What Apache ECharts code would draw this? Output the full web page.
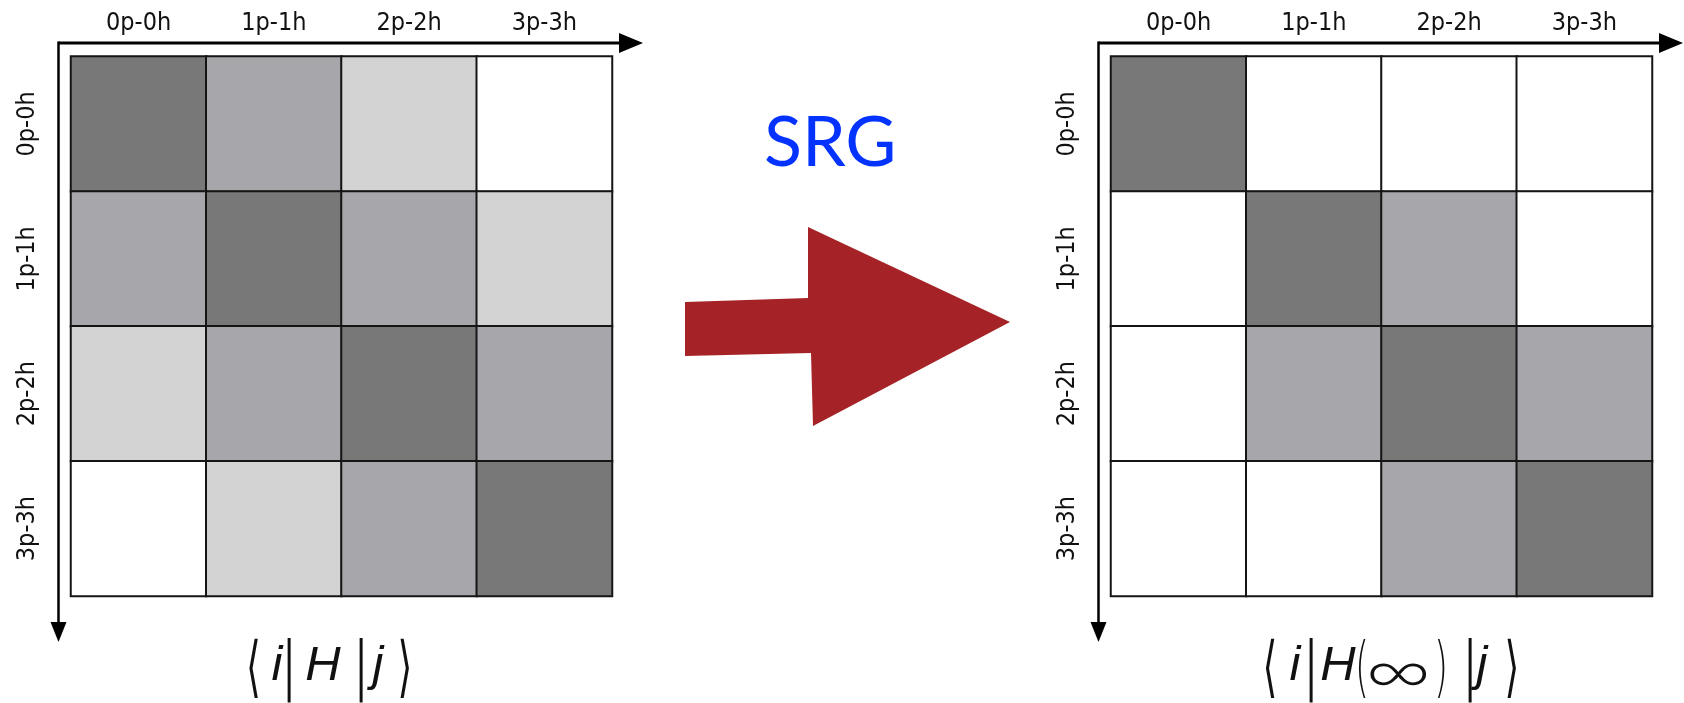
<!DOCTYPE html>
<html>
<head>
<meta charset="utf-8">
<title>SRG: H to H(∞)</title>
<script src="https://cdn.jsdelivr.net/npm/echarts@6/dist/echarts.min.js"></script>
<style>
  html, body { margin: 0; padding: 0; background: #ffffff; }
  #chart { width: 1684px; height: 703px; }
</style>
</head>
<body>
<div id="chart"></div>
<script>
// Basis states (rows i and columns j share the same labels)
const stateLabels = ['0p-0h', '1p-1h', '2p-2h', '3p-3h'];

// Coupling strength between states, 3 = strongest (diagonal) ... 0 = none
const hInitial = [
  [3, 2, 1, 0],
  [2, 3, 2, 1],
  [1, 2, 3, 2],
  [0, 1, 2, 3]
];
const hEvolved = [
  [3, 0, 0, 0],
  [0, 3, 2, 0],
  [0, 2, 3, 2],
  [0, 0, 2, 3]
];

// Shade for each strength level
const levelColors = ['#ffffff', '#d3d3d3', '#a7a6aa', '#787878'];

// Layout of the two matrix panels
const panels = [
  { left: 71, top: 56.5, width: 541, height: 539.5 },
  { left: 1111, top: 56.5, width: 541, height: 539.5 }
];

const labelFont = '"Liberation Sans Narrow", "Arial Narrow", "DejaVu Sans Condensed", sans-serif';

function toCells(matrix) {
  const out = [];
  matrix.forEach((row, i) => row.forEach((v, j) => out.push([j, i, v])));
  return out;
}

function xAxisFor(idx) {
  return {
    type: 'category', gridIndex: idx, position: 'top', data: stateLabels,
    axisLine: { show: false }, axisTick: { show: false }, splitLine: { show: false },
    axisLabel: { margin: 21, fontFamily: labelFont, fontSize: 25, color: '#111' }
  };
}
function yAxisFor(idx) {
  return {
    type: 'category', gridIndex: idx, inverse: true, data: stateLabels,
    axisLine: { show: false }, axisTick: { show: false }, splitLine: { show: false },
    axisLabel: { margin: 31, rotate: 90, fontFamily: labelFont, fontSize: 25, color: '#111' }
  };
}
function heatSeries(idx, matrix) {
  return {
    type: 'heatmap', xAxisIndex: idx, yAxisIndex: idx, data: toCells(matrix),
    itemStyle: { borderColor: '#151515', borderWidth: 2 },
    emphasis: { disabled: true }, silent: true
  };
}

// Axis arrows running along the top and down the left of each panel
function axisArrows(p) {
  const ax = p.left - 12.5;
  const ay = p.top - 13.5;
  const tipX = p.left + p.width + 31;
  const tipY = p.top + p.height + 46;
  const ink = { stroke: '#000', lineWidth: 3 };
  return [
    { type: 'line', shape: { x1: ax, y1: ay, x2: tipX - 16, y2: ay }, style: ink, silent: true },
    { type: 'polygon', shape: { points: [[tipX - 24, ay - 10], [tipX, ay], [tipX - 24, ay + 10]] }, style: { fill: '#000' }, silent: true },
    { type: 'line', shape: { x1: ax, y1: ay - 1.5, x2: ax, y2: tipY - 14 }, style: { stroke: '#000', lineWidth: 2.5 }, silent: true },
    { type: 'polygon', shape: { points: [[ax - 8, tipY - 20], [ax, tipY], [ax + 8, tipY - 20]] }, style: { fill: '#000' }, silent: true }
  ];
}

// Matrix-element captions, one glyph per piece; tall delimiters are stretched vertically
const mathItalic = 'italic 49px "Liberation Sans", Arial, sans-serif';
const mathBracket = '38px "DejaVu Sans", sans-serif';
const mathBar = '300 64px "DejaVu Sans", sans-serif';
const mathParen = '300 36px "DejaVu Sans", sans-serif';
const captionLeft = [
  { t: '⟨', x: 253.5, y: 672, font: mathBracket, sy: 1.75 },
  { t: 'i', x: 277, y: 666, font: mathItalic },
  { t: '|', x: 289, y: 670, font: mathBar },
  { t: 'H', x: 323, y: 666, font: mathItalic },
  { t: '|', x: 361, y: 670, font: mathBar },
  { t: 'j', x: 378, y: 666, font: mathItalic },
  { t: '⟩', x: 405, y: 672, font: mathBracket, sy: 1.75 }
];
const captionRight = [
  { t: '⟨', x: 1270, y: 672, font: mathBracket, sy: 1.75 },
  { t: 'i', x: 1295, y: 666, font: mathItalic },
  { t: '|', x: 1311, y: 670, font: mathBar },
  { t: 'H', x: 1338, y: 666, font: mathItalic },
  { t: '(', x: 1362, y: 672, font: mathParen, sy: 1.85 },
  { t: '∞', x: 1398, y: 672, font: '300 70px Lato, "DejaVu Sans", sans-serif', sx: 1.3 },
  { t: ')', x: 1441, y: 672, font: mathParen, sy: 1.85 },
  { t: '|', x: 1470, y: 670, font: mathBar },
  { t: 'j', x: 1482, y: 666, font: mathItalic },
  { t: '⟩', x: 1512, y: 672, font: mathBracket, sy: 1.75 }
];
function captionGraphics(items) {
  return items.map(c => ({
    type: 'text', silent: true,
    x: c.x, y: c.y, scaleX: c.sx || 1, scaleY: c.sy || 1,
    style: { text: c.t, x: 0, y: 0, font: c.font, fill: '#111', align: 'center', verticalAlign: 'middle' }
  }));
}

const graphics = []
  .concat(axisArrows(panels[0]), axisArrows(panels[1]))
  .concat(captionGraphics(captionLeft), captionGraphics(captionRight))
  .concat([
    // flow arrow between the two panels
    {
      type: 'polygon', silent: true,
      shape: { points: [[685, 302], [808, 298], [808, 227], [1010, 322], [813, 426], [811, 353], [685, 356]] },
      style: { fill: '#a52326' }
    },
    {
      type: 'text', silent: true,
      style: { text: 'SRG', x: 764, y: 143, font: '70px Lato, "Open Sans", sans-serif', fill: '#0432ff', align: 'left', verticalAlign: 'middle' }
    }
  ]);

const chart = echarts.init(document.getElementById('chart'), null, { renderer: 'canvas' });
chart.setOption({
  animation: false,
  backgroundColor: '#ffffff',
  grid: panels.map(p => Object.assign({ containLabel: false, outerBoundsMode: 'none' }, p)),
  xAxis: [xAxisFor(0), xAxisFor(1)],
  yAxis: [yAxisFor(0), yAxisFor(1)],
  visualMap: {
    type: 'piecewise', show: false, seriesIndex: [0, 1], dimension: 2,
    pieces: levelColors.map((c, v) => ({ value: v, color: c }))
  },
  series: [heatSeries(0, hInitial), heatSeries(1, hEvolved)],
  graphic: graphics
});
</script>
</body>
</html>
